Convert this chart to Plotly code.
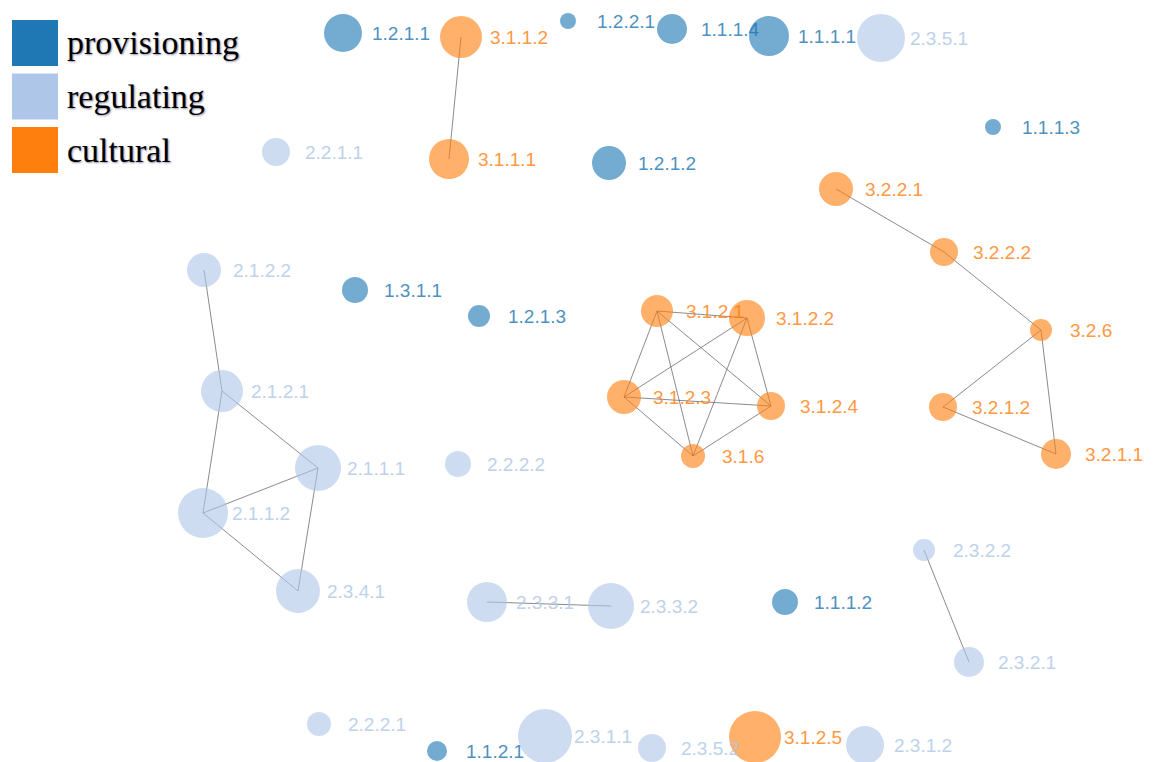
import plotly.graph_objects as go

# ---- data ----
node_names = [
    "1.2.1.1", "1.2.2.1", "1.1.1.4", "1.1.1.1", "1.1.1.3", "1.2.1.2", "1.3.1.1", "1.2.1.3", "1.1.1.2", "1.1.2.1",
    "2.3.5.1", "2.2.1.1", "2.1.2.2", "2.1.2.1", "2.1.1.1", "2.2.2.2", "2.1.1.2", "2.3.4.1", "2.3.3.1", "2.3.3.2",
    "2.3.2.2", "2.3.2.1", "2.2.2.1", "2.3.1.1", "2.3.5.2", "2.3.1.2",
    "3.1.1.2", "3.1.1.1", "3.2.2.1", "3.2.2.2", "3.2.6", "3.2.1.2", "3.2.1.1",
    "3.1.2.1", "3.1.2.2", "3.1.2.3", "3.1.2.4", "3.1.6", "3.1.2.5",
]
node_group = ["provisioning"] * 10 + ["regulating"] * 16 + ["cultural"] * 13
node_x = [343, 568, 672, 769, 993, 609, 355, 479, 785, 437,
          881, 276, 204, 222, 318, 458, 203, 298, 487, 611,
          924, 969, 319, 545, 652, 865,
          461, 449, 836, 944, 1041, 943, 1056,
          657, 747, 624, 771, 693, 755]
node_y = [33, 21, 29, 36, 127, 163, 290, 316, 602, 751,
          38, 152, 270, 391, 468, 464, 513, 591, 602, 606,
          550, 662, 724, 736, 748, 745,
          37, 159, 189, 252, 330, 407, 454,
          311, 318, 397, 406, 456, 737]
node_radius = [19, 8, 15, 20, 8, 17, 13, 11, 13, 10,
               24, 14, 17, 21, 23, 13, 25, 22, 20, 23,
               11, 15, 12, 27, 14, 19,
               21, 20, 17, 14, 11, 14, 15,
               16, 18, 17, 14, 12, 26]

edges = [
    ("3.1.1.2", "3.1.1.1"),
    ("3.2.2.1", "3.2.2.2"), ("3.2.2.2", "3.2.6"),
    ("3.2.6", "3.2.1.2"), ("3.2.6", "3.2.1.1"), ("3.2.1.2", "3.2.1.1"),
    ("3.1.2.1", "3.1.2.2"), ("3.1.2.1", "3.1.2.3"), ("3.1.2.1", "3.1.2.4"), ("3.1.2.1", "3.1.6"),
    ("3.1.2.2", "3.1.2.3"), ("3.1.2.2", "3.1.2.4"), ("3.1.2.2", "3.1.6"),
    ("3.1.2.3", "3.1.2.4"), ("3.1.2.3", "3.1.6"), ("3.1.2.4", "3.1.6"),
    ("2.1.2.2", "2.1.2.1"), ("2.1.2.1", "2.1.1.2"), ("2.1.2.1", "2.1.1.1"),
    ("2.1.1.1", "2.1.1.2"), ("2.1.1.2", "2.3.4.1"), ("2.1.1.1", "2.3.4.1"),
    ("2.3.3.1", "2.3.3.2"),
    ("2.3.2.2", "2.3.2.1"),
]

groups = ["provisioning", "regulating", "cultural"]
group_colors = {"provisioning": "#1f77b4", "regulating": "#aec7e8", "cultural": "#ff7f0e"}

W, H = 1156, 762
OFF = 8  # page body margin of the html page
fig = go.Figure()

idx = {n: i for i, n in enumerate(node_names)}
ex, ey = [], []
for a, b in edges:
    ex += [node_x[idx[a]], node_x[idx[b]], None]
    ey += [node_y[idx[a]], node_y[idx[b]], None]
fig.add_trace(go.Scatter(x=ex, y=ey, mode="lines",
                         line=dict(color="rgba(100,100,100,0.75)", width=1),
                         hoverinfo="skip", showlegend=False))

for g in groups:
    ii = [i for i, gg in enumerate(node_group) if gg == g]
    fig.add_trace(go.Scatter(
        x=[node_x[i] for i in ii], y=[node_y[i] for i in ii], mode="markers",
        marker=dict(size=[2 * node_radius[i] for i in ii], color=group_colors[g],
                    opacity=0.62, line=dict(width=0)),
        text=[node_names[i] for i in ii], hoverinfo="text", showlegend=False,
        cliponaxis=False))

annotations = []
for i, n in enumerate(node_names):
    annotations.append(dict(x=node_x[i], y=node_y[i], xref="x", yref="y", text=n,
                            showarrow=False, xanchor="left", yanchor="middle", xshift=27,
                            font=dict(family="Liberation Sans", size=19, color=group_colors[node_group[i]]),
                            opacity=0.8))


def px_x(v):
    return (v - OFF) / W


def px_y(v):
    return 1 - (v - OFF) / H


shapes = []
for k, g in enumerate(groups):
    y0 = 20 + k * 53.5
    shapes.append(dict(type="rect", xref="paper", yref="paper",
                       x0=px_x(12), x1=px_x(58), y0=px_y(y0 + 46), y1=px_y(y0),
                       fillcolor=group_colors[g], line=dict(width=0)))
    annotations.append(dict(x=px_x(65), y=px_y(y0 + 23), xref="paper", yref="paper", text=g,
                            showarrow=False, xanchor="left", yanchor="middle",
                            font=dict(family="Liberation Serif", size=34, color="black",
                                      shadow="1px 1px 2px rgba(0,0,60,0.45)")))

fig.update_layout(
    width=W, height=H, margin=dict(l=0, r=0, t=0, b=0),
    plot_bgcolor="white", paper_bgcolor="white",
    xaxis=dict(range=[OFF, W + OFF], visible=False, fixedrange=True),
    yaxis=dict(range=[H + OFF, OFF], visible=False, fixedrange=True),
    shapes=shapes, annotations=annotations,
)
fig.write_html("out.html")
